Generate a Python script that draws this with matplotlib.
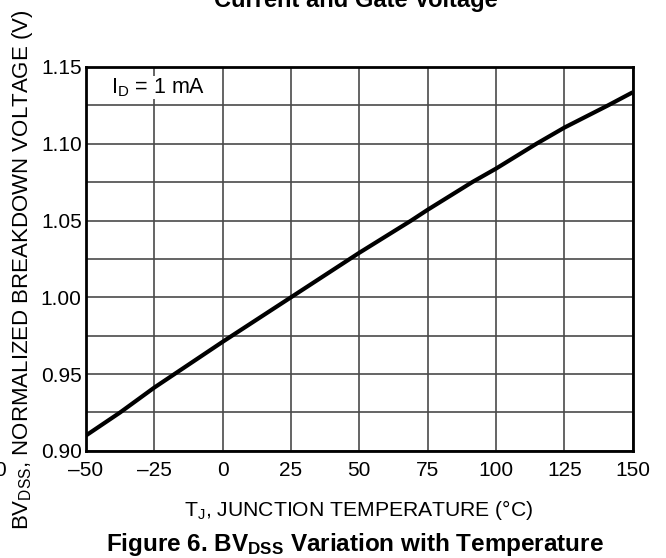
import numpy as np
import matplotlib.pyplot as plt

plt.rcParams['font.family'] = ['Liberation Sans', 'DejaVu Sans']
plt.rcParams['mathtext.fontset'] = 'custom'
plt.rcParams['mathtext.rm'] = 'Liberation Sans'
plt.rcParams['mathtext.bf'] = 'Liberation Sans:bold'

# curve
temp = [-50, -37.5, -25, 0, 25, 50, 69, 75, 91.3, 100, 114.8, 125, 141, 150]
bv = [0.910, 0.925, 0.9412, 0.971, 1.000, 1.029, 1.050, 1.057, 1.075, 1.0838, 1.100, 1.1105, 1.125, 1.1335]

x_ticks = [-50, -25, 0, 25, 50, 75, 100, 125, 150]
x_labels = ['\u201350', '\u201325', '0', '25', '50', '75', '100', '125', '150']
y_ticks = [0.90, 0.925, 0.95, 0.975, 1.00, 1.025, 1.05, 1.075, 1.10, 1.125, 1.15]
y_labels = ['0.90', '', '0.95', '', '1.00', '', '1.05', '', '1.10', '', '1.15']

fig = plt.figure(figsize=(6.66, 5.58), dpi=100)
ax = fig.add_axes([0.129, 0.192, 0.821, 0.688])

ax.plot(temp, bv, color='black', lw=3, solid_capstyle='butt', zorder=3)

ax.set_xlim(-50, 150)
ax.set_ylim(0.90, 1.15)
ax.set_xticks(x_ticks)
ax.set_xticklabels(x_labels, fontsize=15)
ax.set_yticks(y_ticks)
ax.set_yticklabels(y_labels, fontsize=15)
ax.tick_params(axis='x', length=0, pad=7)
ax.tick_params(axis='y', length=0, pad=3)
ax.grid(True, color='#4a4a4a', lw=1.2)
ax.set_axisbelow(True)
for s in ax.spines.values():
    s.set_linewidth(2)
    s.set_color('black')

ax.text(-23.7, 1.1365, '$\\mathregular{I_D}$ = 1 mA', fontsize=15.5, ha='center', va='center',
        bbox=dict(facecolor='white', edgecolor='none', pad=0.3), zorder=4)

fig.text(359 / 666, 1 - 510 / 558, '$\\mathregular{T_J}$, JUNCTION TEMPERATURE (\u00b0C)',
         fontsize=15.2, ha='center', va='center')
fig.text(23 / 666, 1 - 270 / 558, '$\\mathregular{BV_{DSS}}$, NORMALIZED BREAKDOWN VOLTAGE (V)',
         fontsize=16, rotation=90, ha='center', va='center')

fig.text(355 / 666, 1 - 544 / 558, 'Figure 6. $\\mathregular{BV_{DSS}}$ Variation with Temperature',
         fontsize=17.5, fontweight='bold', ha='center', va='center')
fig.text(356 / 666, 1.0, 'Current and Gate Voltage', fontsize=17, fontweight='bold',
         ha='center', va='center')
fig.text(0.0, 1 - 471 / 558, '0', fontsize=15, ha='center', va='center')

fig.savefig('out.png', dpi=100)
